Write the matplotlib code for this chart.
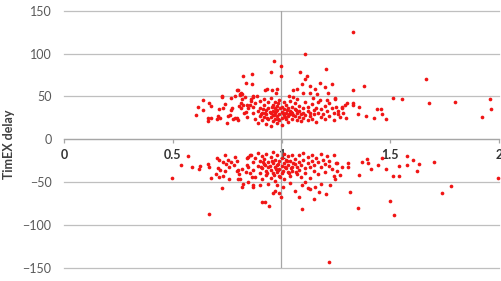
import matplotlib
matplotlib.use("Agg")
import matplotlib.pyplot as plt

# values (x = ratio, y = TimEX delay)
upper_x = [
    # sparse left part
    0.607, 0.617, 0.638, 0.64, 0.66, 0.663, 0.674, 0.668, 0.676, 0.705, 0.71, 0.717,
    0.725, 0.73, 0.74, 0.748, 0.763, 0.771, 0.778, 0.797, 0.80, 0.806, 0.812, 0.794,
    0.81, 0.82, 0.832, 0.84, 0.847, 0.837, 0.843, 0.713, 0.755, 0.786, 0.766, 0.824,
    0.814, 0.829, 0.855, 0.86, 0.87, 0.817, 0.809, 0.786, 0.728, 0.766,
    # higher points
    0.823, 0.863, 0.837, 0.866, 0.80, 0.814, 0.967, 0.998, 0.95, 0.998, 1.085, 1.205,
    1.116, 1.108, 1.177, 1.23, 1.131, 1.093, 0.932, 0.955, 0.978, 0.975, 1.054, 1.07,
    1.154, 1.20, 1.162, 1.215, 1.246, 1.131, 1.10, 1.146, 1.177, 1.208, 1.036, 1.054,
    0.886, 0.924, 0.87, 1.108, 1.33,
    # dense middle
    0.86, 0.87, 0.87, 0.88, 0.88, 0.89, 0.89, 0.90, 0.90, 0.90, 0.91, 0.91, 0.92, 0.92,
    0.92, 0.93, 0.93, 0.93, 0.94, 0.94, 0.94, 0.95, 0.95, 0.95, 0.95, 0.96, 0.96, 0.96,
    0.96, 0.97, 0.97, 0.97, 0.97, 0.98, 0.98, 0.98, 0.98, 0.99, 0.99, 0.99, 1.00, 1.00,
    1.00, 1.00, 1.01, 1.01, 1.01, 1.02, 1.02, 1.02, 1.03, 1.03, 1.03, 1.04, 1.04, 1.04,
    1.05, 1.05, 1.05, 1.06, 1.06, 1.06, 1.07, 1.07, 1.07, 1.08, 1.08, 1.08, 1.09, 1.09,
    1.10, 1.10, 1.10, 1.11, 1.11, 1.12, 1.12, 1.12, 1.13, 1.13, 1.14, 1.14, 1.15, 1.15,
    1.16, 1.16, 1.17, 1.17, 1.18, 1.18, 1.19, 1.20, 1.20, 1.21, 1.22, 1.22, 1.23, 1.24,
    1.24, 1.25, 1.26, 1.27,
    0.905, 0.915, 0.935, 0.945, 0.955, 0.965, 0.975, 0.985, 0.995, 1.005, 1.015, 1.025,
    1.035, 1.045, 0.925, 0.985, 1.055, 1.065,
    # right part
    1.38, 1.33, 1.514, 1.554, 1.68, 1.80, 1.96, 1.965, 1.923, 1.664, 1.30, 1.33, 1.33,
    1.356, 1.44, 1.456, 1.46, 1.48, 1.427, 1.39, 1.35, 1.297, 1.284, 1.28, 1.28, 1.246,
    1.26, 1.29,
]
upper_y = [
    27.7, 37.7, 45.6, 34, 21, 25, 25, 41.7, 39, 23.7, 27, 25,
    49, 37, 41, 19, 28, 36, 23, 25, 22, 38.5, 41.7, 57,
    52.6, 52.6, 49, 40, 36, 32, 26, 35, 27, 25, 34, 40,
    36, 30, 40, 47.5, 51, 47.5, 52, 51, 50, 48,
    73.6, 76, 65.8, 64, 58, 54, 91, 85, 78.6, 74, 78, 82,
    74, 70, 66, 64, 62, 64, 59, 57, 59, 54, 57, 59,
    59, 61, 53, 54, 48, 54.5, 54.5, 48, 46, 46, 50, 48.7,
    51, 57, 49, 99, 124.6,
    45, 38, 30, 24, 42, 33, 19, 27, 45, 37, 22, 31, 40, 26,
    47, 18, 34, 29, 43, 23, 37, 30, 26, 48, 15, 33, 40, 21,
    28, 36, 24, 44, 31, 27, 19, 39, 34, 29, 22, 46, 32, 25,
    38, 17, 35, 28, 43, 23, 31, 40, 27, 36, 20, 33, 45, 29,
    24, 38, 31, 27, 42, 35, 22, 30, 47, 33, 26, 39, 29, 21,
    36, 31, 25, 44, 28, 33, 22, 38, 27, 30, 41, 24, 34, 29,
    37, 20, 31, 44, 26, 35, 29, 39, 23, 33, 27, 42, 36, 30,
    22, 38, 33, 26,
    29, 35, 25, 32, 38, 28, 33, 24, 36, 30, 26, 34,
    29, 32, 31, 42, 28, 34,
    62, 58, 48, 47, 41.7, 43.6, 46.4, 35.4, 26, 70, 42, 41.7, 39.4,
    37.7, 35, 35, 29, 24, 25, 27, 29, 25, 30, 36, 37.5, 47.5,
    29, 40,
]

lower_x = [
    # left part
    0.571, 0.537, 0.498, 0.587, 0.625, 0.622, 0.663, 0.667, 0.674, 0.668, 0.702, 0.714,
    0.71, 0.717, 0.699, 0.714, 0.73, 0.725, 0.74, 0.733, 0.745, 0.755, 0.766, 0.76,
    0.74, 0.76, 0.786, 0.782, 0.797, 0.80, 0.806, 0.794, 0.817, 0.81, 0.80, 0.824,
    0.82, 0.84, 0.847, 0.855, 0.84, 0.847, 0.855, 0.837, 0.863, 0.867, 0.847,
    # low points under the band
    0.909, 0.924, 0.944, 1.093, 1.082, 1.151, 1.205, 1.174, 1.131, 1.123, 0.998, 0.99,
    0.96, 0.97, 1.062, 1.154, 1.008, 0.90, 0.87, 0.978, 0.94, 1.039, 1.093, 1.108,
    1.18, 1.223, 1.246, 1.22,
    # dense middle
    0.86, 0.87, 0.87, 0.88, 0.88, 0.89, 0.89, 0.90, 0.90, 0.91, 0.91, 0.91, 0.92, 0.92,
    0.93, 0.93, 0.93, 0.94, 0.94, 0.95, 0.95, 0.95, 0.96, 0.96, 0.96, 0.97, 0.97, 0.97,
    0.98, 0.98, 0.98, 0.99, 0.99, 0.99, 1.00, 1.00, 1.00, 1.01, 1.01, 1.01, 1.02, 1.02,
    1.03, 1.03, 1.03, 1.04, 1.04, 1.05, 1.05, 1.05, 1.06, 1.06, 1.07, 1.07, 1.08, 1.08,
    1.08, 1.09, 1.09, 1.10, 1.10, 1.11, 1.11, 1.12, 1.12, 1.13, 1.13, 1.14, 1.14, 1.15,
    1.15, 1.16, 1.17, 1.17, 1.18, 1.18, 1.19, 1.20, 1.20, 1.21, 1.22, 1.22, 1.23, 1.24,
    1.24, 1.25,
    0.905, 0.915, 0.935, 0.945, 0.955, 0.965, 0.975, 0.985, 0.995, 1.005, 1.015, 1.025,
    1.035, 1.045, 0.925, 0.985, 1.055, 1.065,
    # right part
    1.254, 1.28, 1.304, 1.307, 1.269, 1.254, 1.369, 1.391, 1.399, 1.412, 1.356, 1.442,
    1.461, 1.479, 1.514, 1.542, 1.542, 1.578, 1.576, 1.606, 1.634, 1.622, 1.70, 1.997,
    1.315, 1.35, 1.499, 1.517, 1.736, 1.78,
]
lower_y = [
    -20, -30, -45, -32, -31.5, -35, -29, -32, -45, -87, -22.5, -24.5,
    -34, -36, -41, -44, -43, -57, -19, -26.5, -29, -24, -26.5, -32,
    -37, -47, -21, -30, -25, -36, -41, -37, -35, -46, -47, -52,
    -56, -22.5, -20.7, -19, -30, -33, -40, -38, -44, -54, -50,
    -73, -73, -78, -82, -67, -70, -64, -62, -58, -57, -67, -63,
    -63, -60, -60, -56, -56, -53, -56, -54, -52, -51, -53, -50,
    -52, -53, -47, -143,
    -18, -27, -36, -22, -44, -31, -16, -25, -39, -34, -20, -47, -29, -23,
    -37, -17, -42, -27, -32, -21, -45, -36, -28, -15, -40, -24, -33, -49,
    -30, -19, -38, -26, -43, -35, -22, -31, -40, -17, -28, -46, -34, -24,
    -38, -20, -30, -43, -26, -33, -18, -37, -29, -23, -41, -32, -19, -27,
    -36, -44, -30, -24, -16, -34, -39, -21, -28, -32, -45, -18, -26, -37,
    -30, -22, -41, -27, -17, -33, -24, -29, -38, -20, -31, -26, -35, -19,
    -43, -28,
    -33, -27, -39, -31, -25, -42, -35, -29, -44, -37, -32, -26,
    -40, -34, -30, -36, -28, -38,
    -27.6, -32, -28, -32, -42, -37, -26.5, -23, -28, -35, -42, -30,
    -22, -35, -43, -43, -31.5, -20, -30, -24.5, -29, -37, -27, -45,
    -61.5, -80, -72, -88, -62.7, -54.5,
]

x_ticks = [0, 0.5, 1, 1.5, 2]
x_tick_labels = ["0", "0.5", "1", "1.5", "2"]
y_ticks = [-150, -100, -50, 0, 50, 100, 150]

plt.rcParams["font.family"] = ["Lato", "DejaVu Sans"]

fig = plt.figure(figsize=(5.01, 2.81), dpi=100)
ax = fig.add_axes([64 / 501, 1 - 267.7 / 281, 435 / 501, 257 / 281])

grid_col = "#bfbfbf"
ax.set_xlim(0, 2)
ax.set_ylim(-150, 150)

ax.scatter(upper_x + lower_x, upper_y + lower_y, s=7, marker="o", color="#f01515",
           linewidths=0, zorder=3, clip_on=False)

# y axis crosses at x = 1, x axis crosses at y = 0
ax.axvline(1, color="#a6a6a6", linewidth=0.9, zorder=1)
for s in ["top", "right", "left"]:
    ax.spines[s].set_visible(False)
ax.spines["bottom"].set_position(("data", 0))
ax.spines["bottom"].set_color("#a6a6a6")
ax.spines["bottom"].set_linewidth(0.9)

ax.set_yticks(y_ticks)
ax.set_xticks(x_ticks)
ax.set_xticklabels(x_tick_labels)
ax.tick_params(axis="y", length=0, pad=9, labelsize=9, labelcolor="#595959")
ax.tick_params(axis="x", direction="out", length=3, width=0.9, color="#a6a6a6",
               pad=4, labelsize=9, labelcolor="#333333")
for lab in ax.get_xticklabels():
    lab.set_fontweight("bold")

ax.yaxis.grid(True, color=grid_col, linewidth=0.9)
for gl in ax.get_ygridlines():
    gl.set_clip_on(False)
ax.set_axisbelow(True)

ax.set_ylabel("TimEX delay", fontsize=9, fontweight="bold", color="#404040")
ax.yaxis.set_label_coords(-0.112, 0.48)

fig.savefig("out.png", dpi=100)
